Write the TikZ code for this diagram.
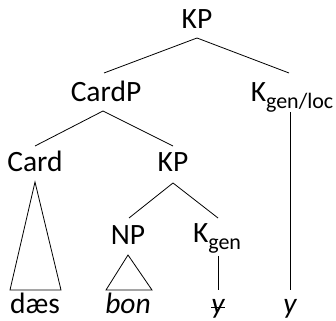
\documentclass[tikz,border=0pt]{standalone}
\usepackage{fontspec}
\setmainfont{Carlito}
\begin{document}
\begin{tikzpicture}[x=1pt,y=1pt,
  lbl/.style={anchor=base,inner sep=0pt,font=\fontsize{29.5}{31}\selectfont},
  edge/.style={line width=0.8pt,line join=miter}]
\useasboundingbox (0,0) rectangle (336,320);
\newcommand{\subsc}[1]{\raisebox{-7pt}{\fontsize{22}{23}\selectfont #1}}
% nodes
\node[lbl] (kp) at (197,291) {KP};
\node[lbl] (cardp) at (106,218) {CardP};
\node[lbl] (kgl) at (292,218) {K\subsc{gen/loc}};
\node[lbl] (card) at (35,148) {Card};
\node[lbl] (kp2) at (173,148) {KP};
\node[lbl] (np) at (128,75) {NP};
\node[lbl] (kgen) at (217,77) {K\subsc{gen}};
\node[lbl] (daes) at (35,6) {dæs};
\node[lbl] (bon) at (128,6) {\itshape bon};
\node[lbl] (ystr) at (218,6) {\itshape y};
\node[lbl] (yy) at (290,6) {\itshape y};
% connectors
\draw[edge] ([yshift=-9pt]kp.base) -- ([xshift=-2pt,yshift=29pt]cardp.base);
\draw[edge] ([yshift=-9pt]kp.base) -- ([xshift=-3pt,yshift=29pt]kgl.base);
\draw[edge] ([xshift=-3pt,yshift=-9pt]cardp.base) -- ([yshift=26pt]card.base);
\draw[edge] ([xshift=-3pt,yshift=-9pt]cardp.base) -- ([yshift=26pt]kp2.base);
\draw[edge] ([yshift=-11pt]kp2.base) -- ([xshift=1pt,yshift=27pt]np.base);
\draw[edge] ([yshift=-11pt]kp2.base) -- ([xshift=1pt,yshift=25pt]kgen.base);
\draw[edge] ([yshift=-10pt]card.base) -- ([xshift=-25pt,yshift=24pt]daes.base) -- ([xshift=26pt,yshift=24pt]daes.base) -- cycle;
\draw[edge] ([yshift=-10pt]np.base) -- ([xshift=-22pt,yshift=24pt]bon.base) -- ([xshift=24pt,yshift=24pt]bon.base) -- cycle;
\draw[edge] ([xshift=1pt,yshift=-13pt]kgen.base) -- ([yshift=24pt]ystr.base);
\draw[edge] ([xshift=-2pt,yshift=-10pt]kgl.base) -- ([yshift=24pt]yy.base);
% stroke through the y
\draw[line width=0.9pt] ([xshift=-7pt,yshift=7pt]ystr.base) -- ([xshift=7pt,yshift=7pt]ystr.base);
\end{tikzpicture}
\end{document}
